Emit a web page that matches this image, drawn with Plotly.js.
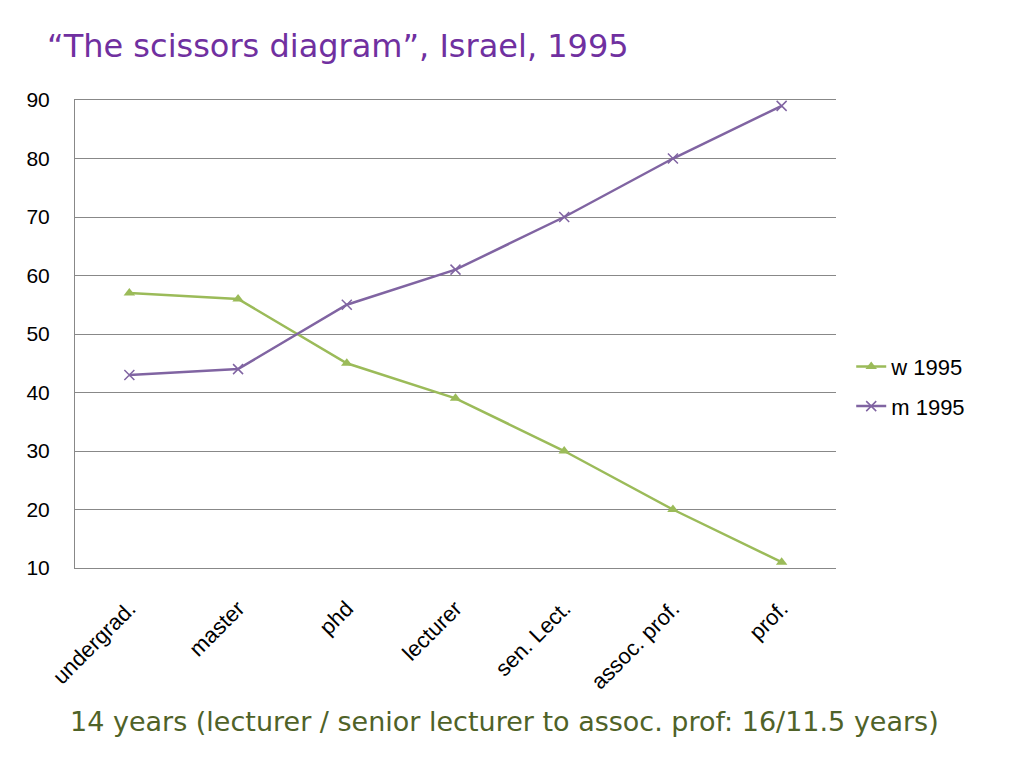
<!DOCTYPE html>
<html>
<head>
<meta charset="utf-8">
<script src="https://cdn.plot.ly/plotly-3.0.1.min.js"></script>
<style>html,body{margin:0;padding:0;background:#fff;}#chart{width:1024px;height:768px;}</style>
</head>
<body>
<div id="chart"></div>
<script>
const categories = ["undergrad.", "master", "phd", "lecturer", "sen. Lect.", "assoc. prof.", "prof."];
const women1995 = [57, 56, 45, 39, 30, 20, 11];
const men1995 = [43, 44, 55, 61, 70, 80, 89];
const titleText = "“The scissors diagram”, Israel, 1995";
const noteText = "14 years (lecturer / senior lecturer to assoc. prof: 16/11.5 years)";

const traces = [
  {
    x: categories, y: women1995, name: "w 1995", type: "scatter", mode: "lines+markers",
    legendgroup: "w",
    line: {color: "#9BBB59", width: 2.5},
    marker: {symbol: "triangle-up", size: 10, color: "#9BBB59"}
  },
  {
    x: categories, y: men1995, name: "m 1995", type: "scatter", mode: "lines+markers",
    legendgroup: "m",
    line: {color: "#8064A2", width: 2.5},
    marker: {symbol: "x-thin", size: 10, color: "#8064A2", line: {color: "#8064A2", width: 1.5}}
  }
];

const layout = {
  width: 1024, height: 768,
  paper_bgcolor: "#fff", plot_bgcolor: "#fff",
  margin: {l: 75, r: 188, t: 100, b: 200},
  font: {family: "Liberation Sans, Arial, sans-serif", color: "#000"},
  title: {
    text: titleText, xref: "container", yref: "container",
    x: 0.046, xanchor: "left", y: 0.94, yanchor: "middle",
    font: {family: "DejaVu Sans, sans-serif", size: 32, color: "#7030A0"}
  },
  xaxis: {
    type: "category", range: [-0.5, 6.5],
    showgrid: false, zeroline: false,
    showline: true, mirror: true, linecolor: "#888", linewidth: 1,
    ticks: "", tickangle: -45, ticklabelstandoff: 18,
    tickfont: {size: 22, family: "Liberation Sans, Arial, sans-serif"}
  },
  yaxis: {
    range: [10, 90], dtick: 10, tick0: 10,
    showgrid: true, gridcolor: "#888", gridwidth: 1,
    showline: true, linecolor: "#888", linewidth: 1,
    zeroline: false, ticks: "", ticklabelstandoff: 20,
    tickfont: {size: 21, family: "Liberation Sans, Arial, sans-serif"}
  },
  legend: {
    x: 1.02, xanchor: "left", y: 0.475, yanchor: "top",
    font: {size: 22}, bgcolor: "rgba(0,0,0,0)", tracegroupgap: 8, itemwidth: 30
  },
  annotations: [
    {
      text: noteText, xref: "paper", yref: "paper", x: 0.565, y: -0.329,
      xanchor: "center", yanchor: "middle", showarrow: false,
      font: {family: "DejaVu Sans, sans-serif", size: 27, color: "#4F6228"}
    }
  ]
};

Plotly.newPlot("chart", traces, layout, {displayModeBar: false});
</script>
</body>
</html>
